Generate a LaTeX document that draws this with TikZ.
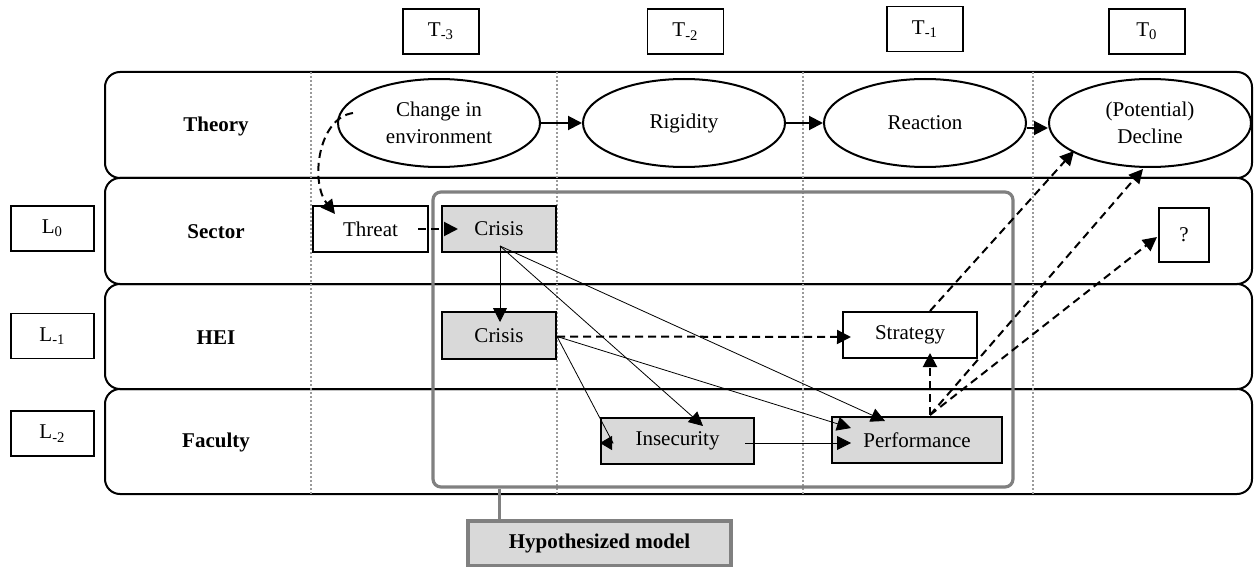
\documentclass[tikz,border=0pt]{standalone}
\usepackage{fontspec}
\setmainfont{Liberation Serif}
\usetikzlibrary{arrows.meta,calc,shapes.geometric}
\definecolor{boxgray}{HTML}{D9D9D9}
\definecolor{framegray}{HTML}{808080}
\definecolor{dotgray}{HTML}{9A9A9A}
\begin{document}
\begin{tikzpicture}[x=0.5pt,y=-0.5pt,
  every node/.style={font=\fontsize{10.5}{13.5}\selectfont},
  tbox/.style={draw,line width=0.8pt,minimum width=38pt,minimum height=22.5pt,inner sep=0pt},
  lbox/.style={tbox,minimum width=41.5pt},
  lanelbl/.style={font=\fontsize{10.5}{13.5}\selectfont\bfseries},
  ell/.style={ellipse,draw,line width=1pt,minimum width=101pt,minimum height=44pt,inner sep=0pt,align=center},
  rbox/.style={rectangle,draw,line width=1pt,minimum height=23pt,inner sep=0pt},
  gbox/.style={rbox,fill=boxgray},
  lane/.style={draw,line width=1pt,rounded corners=7.5pt},
  dotline/.style={dotgray,line width=0.9pt,dash pattern=on 1pt off 1pt},
  arr/.style={-{Triangle[length=7pt,width=7pt]},line width=1pt},
  thinarr/.style={-{Triangle[length=7pt,width=7pt]},line width=0.4pt},
  dasharr/.style={arr,dash pattern=on 4pt off 2.5pt},
  hframe/.style={draw=framegray,line width=1.6pt,rounded corners=4pt,minimum width=290pt,minimum height=147.5pt,inner sep=0pt}
]
\useasboundingbox (0,0) rectangle (1254,567);

% lanes
\draw[lane] (105,72) rectangle (1252,178);
\draw[lane] (105,178) rectangle (1252,284);
\draw[lane] (105,284) rectangle (1252,389);
\draw[lane] (105,389) rectangle (1252,494);

\node[lanelbl] (ltheory) at (216,126) {Theory};
\node[lanelbl] (lsector) at (216,232) {Sector};
\node[lanelbl] (lhei) at (216,337.5) {HEI};
\node[lanelbl] (lfaculty) at (216,442.5) {Faculty};

% dotted time dividers
\foreach \xx in {311,557,803,1033} \draw[dotline] (\xx,72) -- (\xx,494);

% time and level labels
\node[tbox] (t3) at (441,31.5) {T\textsubscript{-3}};
\node[tbox] (t2) at (685.5,31.5) {T\textsubscript{-2}};
\node[tbox] (t1) at (925,29) {T\textsubscript{-1}};
\node[tbox] (t0) at (1147,31.5) {T\textsubscript{0}};

\node[lbox] (l0) at (52.5,228.5) {L\textsubscript{0}};
\node[lbox] (l1) at (52.5,336) {L\textsubscript{-1}};
\node[lbox] (l2) at (52.5,433.5) {L\textsubscript{-2}};

% hypothesized model frame
\node[hframe] (frame) at (723,339.5) {};
\node[draw=framegray,line width=1.6pt,fill=boxgray,minimum width=131.5pt,minimum height=22.5pt,inner sep=0pt,font=\fontsize{10.5}{13.5}\selectfont\bfseries] (hyp) at (599.5,543.5) {Hypothesized model};
\path (hyp.north west) ++(33,0) coordinate (s1);
\draw[framegray,line width=1.6pt] (s1) -- (s1 |- frame.south);

% theory ellipses
\node[ell] (env) at (439,123) {Change in\\environment};
\node[ell] (rig) at (684,123) {Rigidity};
\node[ell] (rea) at (925,123) {Reaction};
\node[ell] (dec) at (1150,123) {(Potential)\\Decline};

% boxes
\node[rbox,minimum width=57.5pt] (threat) at (370.5,229) {Threat};
\node[gbox,minimum width=57pt] (sc) at (499,229) {Crisis};
\node[gbox,minimum width=57pt,minimum height=23.5pt] (hc) at (499,335.5) {Crisis};
\node[rbox,minimum width=67pt] (strat) at (910,335) {Strategy};
\node[gbox,minimum width=76.5pt] (ins) at (677.5,441) {Insecurity};
\node[gbox,minimum width=85pt] (perf) at (917,440) {Performance};
\node[rbox,minimum width=25pt,minimum height=27pt] (q) at (1184,235) {?};

% theory arrows
\draw[arr] (env.east) -- (rig.west);
\draw[arr] (rig.east) -- (rea.west);
\draw[arr] ($(rea.east)+(0,5)$) -- ($(dec.west)+(0,5)$);

% environment -> threat
\draw[dasharr] ($(env.center)+(-86,-10)$) .. controls (318,118) and (310,182) .. ($(threat.north west)+(23,9)$);
\draw[dasharr] ($(threat.east)+(-11,0)$) -- ($(sc.west)+(17,0)$);

% from sector crisis
\coordinate (o1) at ($(sc.center)+(1,17)$);
\draw[thinarr] (o1) -- ($(hc.north)+(1,11)$);
\draw[thinarr] (o1) -- ($(ins.north)+(25.5,9)$);
\draw[thinarr] (o1) -- ($(perf.north)+(-32,5)$);

% from HEI crisis
\coordinate (o2) at ($(hc.east)+(0,1)$);
\draw[dasharr] (o2) -- ($(strat.west)+(9,2)$);
\draw[thinarr] (o2) -- ($(perf.west)+(20,-12)$);
\draw[-{Triangle[length=6pt,width=7pt]},line width=0.4pt] (o2) -- ($(ins.west)+(13,2)$) -- ($(ins.west)+(0,2)$);

% insecurity -> performance
\draw[thinarr] ($(ins.east)+(-10,2)$) -- ($(perf.west)+(20,3)$);

% from performance
\coordinate (o3) at ($(perf.north)+(13,-1)$);
\draw[dasharr] (o3) -- ($(strat.south)+(20,-6)$);
\draw[dasharr] (o3) -- ($(dec.south)+(-7,1)$);
\draw[dasharr] (o3) -- ($(q.west)+(-1,2)$);

% strategy -> decline
\draw[dasharr] ($(strat.north)+(20,0)$) -- ($(dec.center)+(-76,28)$);
\end{tikzpicture}
\end{document}
